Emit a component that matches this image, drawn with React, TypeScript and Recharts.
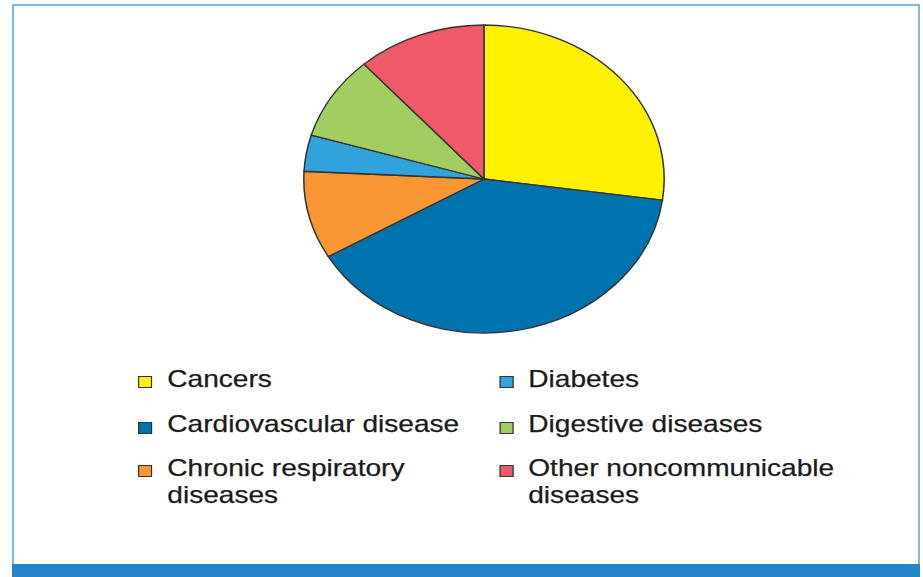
import { PieChart, Pie, Cell } from 'recharts';

const causes = [
  'Cancers',
  'Cardiovascular disease',
  'Chronic respiratory diseases',
  'Diabetes',
  'Digestive diseases',
  'Other noncommunicable diseases',
];
const shares = [27.2, 39.4, 9.2, 3.8, 8.8, 11.6];
const colors = ['#fff100', '#0072ad', '#f79633', '#30a2dc', '#a2cd61', '#ef5a6a'];

// legend is laid out in two columns of three, like the source figure
const legendColumns = [
  [0, 1, 2],
  [3, 4, 5],
];

const data = causes.map((name, i) => ({ name, value: shares[i] }));

// the source image is stretched horizontally, so draw narrow and scale
const SX = 1.17;
const innerW = 923 / SX;

function LegendItem({ idx, x, width, top }: { idx: number; x: number; width: number; top: number }) {
  return (
    <div style={{ position: 'absolute', left: x, top, width: width + 26 }}>
      <div
        style={{
          position: 'absolute',
          left: 0,
          top: 11.5,
          width: 10,
          height: 10,
          background: colors[idx],
          border: '1px solid #333',
        }}
      />
      <div
        style={{
          marginLeft: 25,
          width,
          fontSize: 24,
          lineHeight: '27.6px',
          color: '#1a1a1a',
          WebkitTextStroke: '0.25px #1a1a1a',
        }}
      >
        {causes[idx]}
      </div>
    </div>
  );
}

export default function App() {
  const rowTops = [364.6, 410.2, 453.8];
  const colX = [118, 426.5];
  const colW = [270, 300];
  return (
    <div
      style={{
        position: 'absolute',
        left: 0,
        top: 0,
        width: 923,
        height: 577,
        background: '#fff',
        overflow: 'hidden',
        fontFamily: '"Liberation Sans", Arial, sans-serif',
      }}
    >
      <div style={{ position: 'absolute', left: 12, top: 4, width: 908, height: 2, background: '#7db9e6' }} />
      <div style={{ position: 'absolute', left: 12, top: 4, width: 2, height: 573, background: '#7db9e6' }} />
      <div style={{ position: 'absolute', left: 918, top: 4, width: 2, height: 573, background: '#7db9e6' }} />
      <div style={{ position: 'absolute', left: 12, top: 564, width: 908, height: 13, background: '#2485c8' }} />

      <div
        style={{
          position: 'absolute',
          left: 0,
          top: 0,
          width: innerW,
          height: 577,
          transform: `scaleX(${SX})`,
          transformOrigin: 'left top',
        }}
      >
        <PieChart width={innerW} height={360} margin={{ top: 0, right: 0, bottom: 0, left: 0 }}>
          <Pie
            data={data}
            dataKey="value"
            nameKey="name"
            cx={484 / SX}
            cy={179}
            outerRadius={154}
            startAngle={90}
            endAngle={-270}
            stroke="#333"
            strokeWidth={1.3}
            isAnimationActive={false}
            label={false}
            labelLine={false}
          >
            {data.map((d, i) => (
              <Cell key={d.name} fill={colors[i]} />
            ))}
          </Pie>
        </PieChart>

        {legendColumns.map((col, c) =>
          col.map((idx, r) => (
            <LegendItem key={idx} idx={idx} x={colX[c]} width={colW[c]} top={rowTops[r]} />
          ))
        )}
      </div>
    </div>
  );
}
